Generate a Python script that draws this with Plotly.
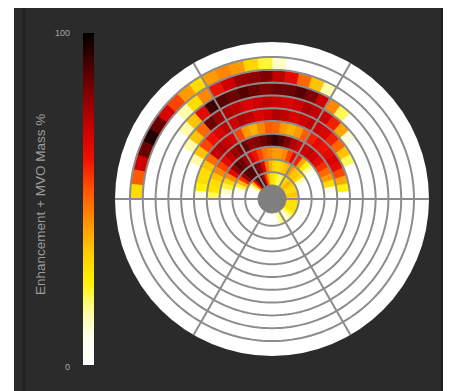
import plotly.graph_objects as go

# ---------------- data (percent, 6-degree bins, counter-clockwise from east) ----------------
# upper half: bins 0-6, 6-12, ..., 174-180 degrees
ring1 = [30, 35, 35, 30, 30, 32, 35, 38, 35, 30, 25, 20, 20, 25, 28, 30, 38, 55, 75, 88, 92, 85, 65, 40, 20, 10, 0, 0, 0, 0]
ring2 = [0, 0, 0, 0, 0, 15, 30, 35, 35, 42, 38, 35, 32, 30, 32, 38, 48, 68, 80, 85, 88, 90, 88, 78, 58, 38, 22, 10, 0, 0]
ring3 = [0, 0, 0, 0, 0, 5, 15, 25, 40, 60, 65, 55, 45, 42, 42, 45, 48, 55, 62, 70, 78, 85, 88, 80, 65, 45, 32, 22, 12, 5]
ring4 = [0, 10, 30, 42, 50, 58, 65, 70, 72, 70, 70, 75, 82, 88, 92, 88, 85, 82, 80, 85, 82, 78, 72, 65, 55, 45, 35, 30, 28, 20]
ring5 = [0, 25, 40, 55, 65, 68, 65, 62, 65, 60, 52, 42, 38, 42, 50, 52, 45, 38, 42, 55, 68, 72, 75, 72, 50, 35, 30, 30, 25, 10]
ring6 = [0, 0, 0, 0, 20, 35, 50, 60, 68, 70, 72, 70, 68, 72, 75, 70, 68, 72, 75, 70, 72, 68, 62, 55, 35, 15, 0, 0, 0, 0]
ring7 = [0, 0, 0, 0, 0, 0, 10, 40, 60, 70, 72, 75, 70, 68, 70, 72, 70, 68, 72, 75, 78, 85, 50, 35, 15, 0, 0, 0, 0, 0]
ring8 = [0, 0, 0, 0, 0, 0, 0, 0, 20, 45, 70, 82, 88, 85, 85, 82, 85, 88, 85, 88, 92, 65, 35, 15, 0, 0, 0, 0, 0, 0]
ring9 = [0, 0, 0, 0, 0, 0, 0, 0, 0, 0, 15, 35, 50, 65, 72, 82, 80, 78, 70, 62, 45, 30, 15, 0, 0, 0, 0, 0, 0, 0]
ring10 = [0, 0, 0, 0, 0, 0, 0, 0, 0, 0, 0, 0, 0, 0, 12, 22, 32, 42, 45, 42, 30, 42, 55, 68, 85, 95, 85, 70, 52, 30]
# lower half (180-360 degrees): only the innermost ring has enhancement
ring1_lower = [0] * 17 + [10, 15, 20, 15, 10, 15, 20, 25, 30, 30, 28, 28, 30]

upper = [ring1, ring2, ring3, ring4, ring5, ring6, ring7, ring8, ring9, ring10]
lower = [ring1_lower] + [[0] * 30 for _ in range(9)]

colorbar_ticks = [0, 100]
colorbar_ticktext = ["0", "100"]
colorbar_title = "Enhancement + MVO Mass %"

# ---------------- geometry / style ----------------
W, H = 443, 383
DISC_R = 14
RING_W = 12.8
OUTER_R = 157
BIN = 6
ring_edges = [DISC_R + RING_W * k for k in range(len(upper) + 1)]
spokes = [0, 60, 120, 180, 240, 300]

cscale = [
    [0.00, "#ffffff"], [0.08, "#fffff0"], [0.16, "#fffca0"], [0.25, "#fff200"],
    [0.33, "#ffd000"], [0.42, "#ff9a00"], [0.52, "#ff5a00"], [0.62, "#f01000"],
    [0.70, "#d00000"], [0.80, "#900000"], [0.90, "#4a0000"], [1.00, "#000000"],
]

def px(x):
    return x / W

def py(y):
    return 1 - y / H

cx, cy = 264, 191

r_h, th, base, val = [], [], [], []
for k in range(len(upper)):
    vals = upper[k] + lower[k]
    for i, v in enumerate(vals):
        th.append(BIN * (i + 0.5))
        base.append(ring_edges[k])
        r_h.append(ring_edges[k + 1] - ring_edges[k])
        val.append(v)

fig = go.Figure()
fig.add_trace(go.Barpolar(
    r=r_h, theta=th, base=base, width=BIN,
    marker=dict(
        color=val, colorscale=cscale, cmin=0, cmax=100,
        line=dict(width=0.6, color=val, colorscale=cscale, cmin=0, cmax=100),
        showscale=True,
        colorbar=dict(
            x=px(75), xanchor="left", xpad=0, ypad=0,
            y=py(191), yanchor="middle",
            len=(357 - 25) / H, lenmode="fraction",
            thickness=11, thicknessmode="pixels",
            outlinewidth=0, showticklabels=False, ticks="",
        ),
    ),
    hoverinfo="skip", showlegend=False,
))

grid_col = "#8c8c8c"
full = list(range(0, 361, 2))
for e in ring_edges[1:]:
    fig.add_trace(go.Scatterpolar(r=[e] * len(full), theta=full, mode="lines",
                                  line=dict(color=grid_col, width=2),
                                  hoverinfo="skip", showlegend=False))
for a in spokes:
    fig.add_trace(go.Scatterpolar(r=[DISC_R, OUTER_R], theta=[a, a], mode="lines",
                                  line=dict(color=grid_col, width=2),
                                  hoverinfo="skip", showlegend=False, cliponaxis=False))
fig.add_trace(go.Scatterpolar(r=[DISC_R] * len(full), theta=full, mode="lines",
                              fill="toself", fillcolor="#7f7f7f",
                              line=dict(color="#7f7f7f", width=1),
                              hoverinfo="skip", showlegend=False))

fig.update_layout(
    width=W, height=H,
    margin=dict(l=0, r=0, t=0, b=0),
    paper_bgcolor="#ffffff",
    font=dict(family="Liberation Sans, Arial, sans-serif", color="#a0a0a0"),
    polar=dict(
        domain=dict(x=[px(cx - OUTER_R), px(cx + OUTER_R)], y=[py(cy + OUTER_R), py(cy - OUTER_R)]),
        bgcolor="#ffffff",
        radialaxis=dict(range=[0, OUTER_R], visible=False, showgrid=False),
        angularaxis=dict(visible=False, showgrid=False, rotation=0, direction="counterclockwise"),
    ),
    shapes=[
        dict(type="rect", xref="paper", yref="paper", x0=px(6), x1=1, y0=0, y1=1,
             fillcolor="#2b2b2b", line=dict(width=0), layer="below"),
        dict(type="rect", xref="paper", yref="paper", x0=px(14), x1=px(18), y0=0, y1=1,
             fillcolor="#222222", line=dict(width=0), layer="below"),
        dict(type="rect", xref="paper", yref="paper", x0=px(433), x1=px(437), y0=0, y1=1,
             fillcolor="#1f1f1f", line=dict(width=0), layer="below"),
        dict(type="rect", xref="paper", yref="paper", x0=px(437), x1=1, y0=0, y1=1,
             fillcolor="#383838", line=dict(width=0), layer="below"),
    ],
    annotations=[
        dict(text=colorbar_ticktext[1], x=px(64), y=py(25), xref="paper", yref="paper",
             xanchor="right", yanchor="middle", showarrow=False, font=dict(size=9, color="#a8a8a8")),
        dict(text=colorbar_ticktext[0], x=px(64), y=py(359), xref="paper", yref="paper",
             xanchor="right", yanchor="middle", showarrow=False, font=dict(size=9, color="#a8a8a8")),
        dict(text=colorbar_title, x=px(32), y=py(197), xref="paper", yref="paper",
             xanchor="center", yanchor="middle", textangle=-90, showarrow=False,
             font=dict(size=13.5, color="#9c9c9c")),
    ],
)

fig.write_html("out.html")
